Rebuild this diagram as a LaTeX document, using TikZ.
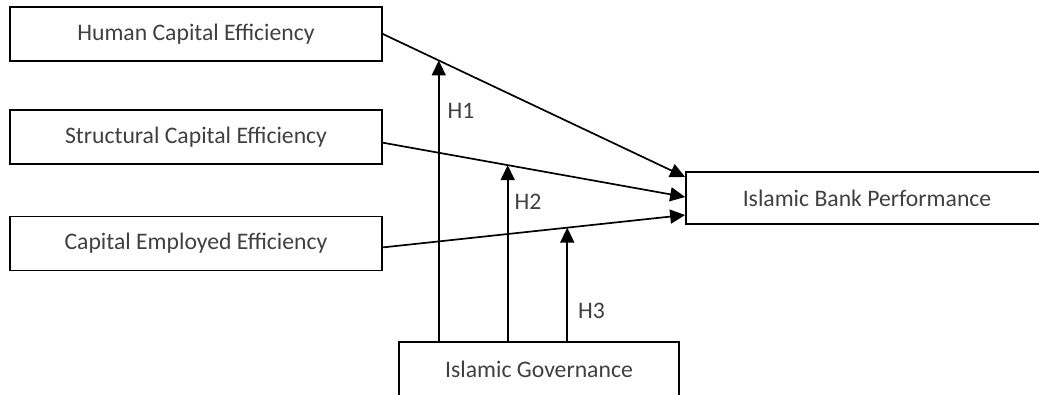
\documentclass[tikz,border=0pt]{standalone}
\usepackage{fontspec}
\setmainfont{Carlito}
\usepackage{tikz}
\usetikzlibrary{positioning,
calc,
arrows.meta}
\tikzstyle{Box} = [
rectangle,
draw,
line width=1.7pt,
inner sep=0pt,
minimum height=54pt,
text=black!75,
font=\fontsize{23.7pt}{28pt}\selectfont
]
\tikzstyle{Arrow} = [
line width=1.7pt,
-{Triangle[length=15pt,width=14pt]}
]
\tikzstyle{Hyp} = [
inner sep=2pt,
text=black!75,
font=\fontsize{23.7pt}{28pt}\selectfont
]

\begin{document}
\begin{tikzpicture}[x=1pt, y=-1pt]
            \useasboundingbox (0,0) rectangle (1039,394);
            \clip (0,0) rectangle (1039,394);
            \node [Box, minimum width=372pt] (hce) at (196,34) {Human Capital Efficiency};
            \node [Box, minimum width=372pt, below=47pt of hce] (sce) {Structural Capital Efficiency};
            \node [Box, minimum width=372pt, below=51pt of sce] (cee) {Capital Employed Efficiency};
            \node [Box, minimum width=362pt, minimum height=52pt] (ibp) at (867,198) {Islamic Bank Performance};
            \node [Box, minimum width=280pt] (ig) at (539,369) {Islamic Governance};
            
            \draw[Arrow] (hce.east) -- coordinate[pos=0.185] (t1) ([yshift=21pt]ibp.west);
            \draw[Arrow] ([yshift=-6pt]sce.east) -- coordinate[pos=0.413] (t2) ([yshift=1pt]ibp.west);
            \draw[Arrow] ([yshift=-4pt]cee.east) -- coordinate[pos=0.61] (t3) ([yshift=-17pt]ibp.west);
            \draw[Arrow] (t1 |- ig.north) -- (t1) node [Hyp, pos=0.82, right=6pt] {H1};
            \draw[Arrow] (t2 |- ig.north) -- (t2) node [Hyp, pos=0.79, right=4pt] {H2};
            \draw[Arrow] (t3 |- ig.north) -- (t3) node [Hyp, pos=0.27, right=8pt] {H3};
        \end{tikzpicture}
\end{document}
